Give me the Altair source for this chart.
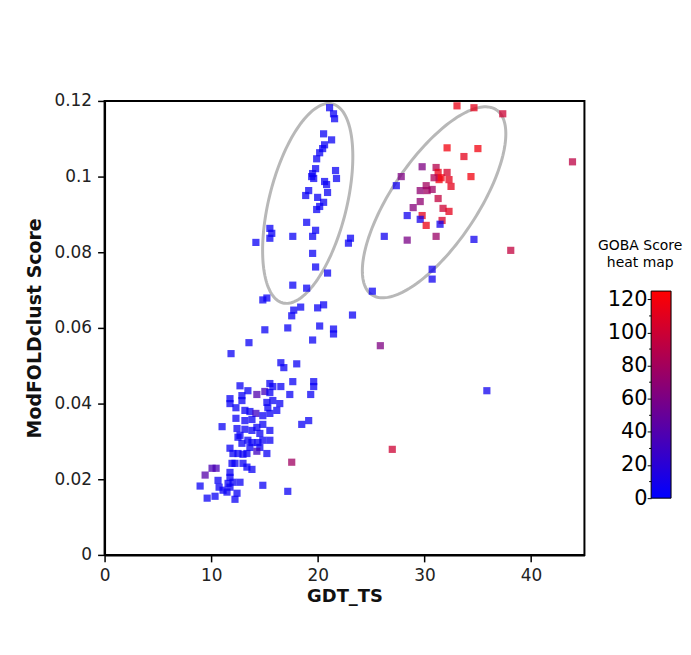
import altair as alt
import numpy as np
import pandas as pd

# ---- data ----
gdt_ts = [
    21.10, 21.47, 21.57, 20.54, 21.29, 20.63, 20.45, 20.17, 19.89, 21.66,
    21.75, 19.79, 19.51, 19.42, 19.61, 20.63, 20.82, 20.91, 19.14, 18.86,
    19.98, 20.54, 20.17, 19.89, 18.95, 19.79, 19.51, 17.65, 15.50, 15.68,
    15.50, 14.19, 23.06, 22.87,
    19.51, 19.79, 20.91, 17.65, 18.95, 14.84, 15.22, 17.74, 18.39, 17.55,
    19.98, 20.54, 23.25, 25.11, 15.03, 17.18, 20.17, 21.47, 21.47, 19.51,
    13.54, 11.86, 25.86, 16.53, 16.81, 18.02,
    12.70, 13.44, 14.28, 15.03, 15.50, 15.78, 16.53, 17.65, 19.61, 19.61,
    19.33, 17.37, 11.76, 11.76, 12.88, 12.88, 15.50, 15.78, 16.43, 16.15,
    15.22, 15.31, 12.32, 13.16, 13.63, 14.19, 14.84, 15.50, 12.32, 13.16,
    13.82, 19.14, 18.49, 11.02, 12.42, 12.70, 13.16, 13.82, 14.28, 14.84,
    14.56, 14.84, 15.50, 15.50, 12.51, 12.88, 13.44, 13.63, 13.82, 14.38,
    14.56, 11.76, 12.04, 12.51, 12.98, 13.35, 14.28, 15.22, 17.55, 11.95,
    12.23, 12.98, 13.35, 13.82, 10.08, 10.46, 11.76, 9.43, 11.76, 12.04,
    11.58, 12.70, 10.64, 8.96, 10.74, 11.11, 11.48, 11.76, 14.84, 12.42,
    12.23, 10.36, 9.62, 17.18,
    33.05, 34.64, 37.34, 32.12, 35.01, 33.70, 29.78, 31.09, 31.28, 31.56,
    31.37, 32.12, 32.30, 32.49, 30.90, 34.36, 27.82, 27.36, 30.16, 29.60,
    30.25, 30.72, 31.28, 29.60, 28.94, 31.74, 32.30, 28.38, 29.78, 29.60,
    31.65, 31.46, 30.16, 26.23, 28.38, 31.09, 34.64, 38.09, 43.88, 30.72,
    30.72, 35.85, 26.98,
]
modfoldclust = [
    0.1182, 0.1166, 0.1153, 0.1113, 0.1097, 0.1084, 0.1074, 0.1063, 0.1047, 0.1016,
    0.0995, 0.1021, 0.1008, 0.1000, 0.0995, 0.0987, 0.0979, 0.0958, 0.0963, 0.0950,
    0.0945, 0.0932, 0.0921, 0.0913, 0.0879, 0.0858, 0.0842, 0.0842, 0.0863, 0.0850,
    0.0837, 0.0826, 0.0837, 0.0824,
    0.0797, 0.0761, 0.0745, 0.0713, 0.0705, 0.0674, 0.0679, 0.0647, 0.0655, 0.0632,
    0.0653, 0.0661, 0.0634, 0.0697, 0.0595, 0.0600, 0.0605, 0.0597, 0.0584, 0.0568,
    0.0561, 0.0532, 0.0553, 0.0508, 0.0495, 0.0505,
    0.0447, 0.0434, 0.0424, 0.0432, 0.0453, 0.0445, 0.0445, 0.0458, 0.0458, 0.0445,
    0.0424, 0.0424, 0.0413, 0.0400, 0.0421, 0.0408, 0.0429, 0.0408, 0.0400, 0.0382,
    0.0403, 0.0389, 0.0389, 0.0382, 0.0379, 0.0374, 0.0368, 0.0374, 0.0361, 0.0355,
    0.0358, 0.0355, 0.0345, 0.0339, 0.0334, 0.0316, 0.0332, 0.0329, 0.0337, 0.0345,
    0.0321, 0.0303, 0.0329, 0.0303, 0.0311, 0.0295, 0.0303, 0.0284, 0.0297, 0.0297,
    0.0284, 0.0282, 0.0268, 0.0268, 0.0266, 0.0268, 0.0274, 0.0268, 0.0245, 0.0242,
    0.0242, 0.0242, 0.0232, 0.0226, 0.0229, 0.0229, 0.0218, 0.0211, 0.0205, 0.0192,
    0.0189, 0.0192, 0.0197, 0.0182, 0.0179, 0.0171, 0.0166, 0.0179, 0.0184, 0.0163,
    0.0147, 0.0155, 0.0150, 0.0168,
    0.1187, 0.1182, 0.1166, 0.1076, 0.1074, 0.1053, 0.1026, 0.1024, 0.1011, 0.0997,
    0.0992, 0.1011, 0.0992, 0.0974, 0.0997, 0.1000, 0.1000, 0.0976, 0.0976, 0.0963,
    0.0963, 0.0966, 0.0942, 0.0934, 0.0918, 0.0916, 0.0908, 0.0897, 0.0897, 0.0887,
    0.0884, 0.0874, 0.0871, 0.0842, 0.0832, 0.0842, 0.0834, 0.0805, 0.1039, 0.0755,
    0.0729, 0.0434, 0.0279,
]
goba = [
    5, 5, 5, 5, 5, 5, 5, 5, 5, 5,
    5, 5, 5, 5, 5, 5, 5, 5, 5, 5,
    5, 5, 5, 5, 5, 5, 5, 5, 5, 5,
    5, 5, 5, 5,
    5, 5, 5, 5, 5, 5, 5, 5, 5, 5,
    5, 5, 5, 5, 5, 5, 5, 5, 5, 5,
    5, 5, 62, 5, 5, 5,
    5, 5, 40, 32, 5, 5, 5, 5, 5, 5,
    5, 5, 5, 5, 5, 5, 5, 5, 5, 5,
    5, 5, 5, 5, 5, 30, 5, 5, 5, 5,
    5, 5, 5, 5, 5, 5, 5, 5, 5, 5,
    5, 5, 5, 5, 5, 5, 5, 5, 5, 5,
    5, 5, 5, 5, 5, 5, 30, 5, 78, 5,
    5, 5, 5, 5, 36, 36, 5, 42, 5, 5,
    5, 5, 5, 5, 5, 5, 5, 5, 5, 5,
    5, 5, 5, 5,
    115, 112, 100, 118, 118, 112, 62, 88, 115, 118,
    118, 105, 112, 112, 85, 118, 62, 8, 80, 70,
    78, 78, 95, 70, 65, 100, 112, 8, 112, 10,
    105, 8, 115, 8, 60, 75, 8, 95, 92, 8,
    8, 8, 100,
]

# ellipse annotations: centre (data units), semi-axes (px), tilt (deg)
ell_cx = [19.05, 30.9]
ell_cy = [0.0929, 0.0932]
ell_a = [103, 112]
ell_b = [39, 43]
ell_theta = [76, 56]

bar_ticks = [0, 20, 40, 60, 80, 100, 120]
bar_minor = [10, 30, 50, 70, 90, 110]
bar_colors = ["#0000ff", "#ff0000"]

W, H = 482, 456
XMAX, YMAX, CMAX = 45, 0.12, 125
FONT = "DejaVu Sans"

pts = pd.DataFrame({"gdt": gdt_ts, "mfc": modfoldclust, "goba": goba})

rows = []
t = np.linspace(0, 2 * np.pi, 181)
for i in range(len(ell_cx)):
    th = np.radians(ell_theta[i])
    dx = ell_a[i] * np.cos(t) * np.cos(th) - ell_b[i] * np.sin(t) * np.sin(th)
    dy = ell_a[i] * np.cos(t) * np.sin(th) + ell_b[i] * np.sin(t) * np.cos(th)
    for k in range(len(t)):
        rows.append({"e": i, "k": k,
                     "gdt": ell_cx[i] + dx[k] * XMAX / W,
                     "mfc": ell_cy[i] + dy[k] * YMAX / H})
ell = pd.DataFrame(rows)

color_scale = alt.Scale(domain=[0, CMAX], range=bar_colors, interpolate="rgb")
xs = alt.Scale(domain=[0, XMAX], nice=False, zero=False)
ys = alt.Scale(domain=[0, YMAX], nice=False, zero=False)

xaxis = alt.Axis(values=[0, 10, 20, 30, 40], title="GDT_TS", grid=False, labelFlush=False,
                 labelFont=FONT, labelFontSize=17, labelColor="#222",
                 titleFont=FONT, titleFontSize=18, titleFontWeight="bold", titleColor="#111",
                 titlePadding=4, tickSize=7, tickWidth=1.5, tickColor="black",
                 domainColor="black", domainWidth=2, labelPadding=6)
yaxis = alt.Axis(values=[0, 0.02, 0.04, 0.06, 0.08, 0.1, 0.12], format="~g",
                 title="ModFOLDclust Score", grid=False, labelFlush=False,
                 labelFont=FONT, labelFontSize=17, labelColor="#222",
                 titleFont=FONT, titleFontSize=19, titleFontWeight="bold", titleColor="#111",
                 titlePadding=10, tickSize=7, tickWidth=1.5, tickColor="black",
                 domainColor="black", domainWidth=2, labelPadding=6)

ellipses = alt.Chart(ell).mark_line(color="#b8b8b8", strokeWidth=3).encode(
    x=alt.X("gdt:Q", scale=xs, axis=xaxis),
    y=alt.Y("mfc:Q", scale=ys, axis=yaxis),
    detail="e:N",
    order="k:Q",
)
scatter = alt.Chart(pts).mark_square(size=52, opacity=0.75, strokeWidth=0).encode(
    x=alt.X("gdt:Q", scale=xs),
    y=alt.Y("mfc:Q", scale=ys),
    color=alt.Color("goba:Q", scale=color_scale, legend=None),
)
main = alt.layer(ellipses, scatter).properties(
    width=W, height=H,
    view=alt.ViewBackground(stroke="black", strokeWidth=2),
)

# colour bar panel
bar_top, bar_bot = 191, 399
per_px = CMAX / (bar_bot - bar_top)
cb_scale = alt.Scale(domain=[-(H - bar_bot) * per_px, CMAX + bar_top * per_px], nice=False, zero=False)
cb_axis = alt.Axis(values=bar_ticks, title=None, grid=False, domain=False,
                   labelFont=FONT, labelFontSize=21, labelColor="black",
                   tickSize=4, tickColor="black", tickWidth=1, labelPadding=0)

gradient = alt.LinearGradient(
    gradient="linear",
    stops=[alt.GradientStop(color=bar_colors[0], offset=0),
           alt.GradientStop(color=bar_colors[1], offset=1)],
    x1=0, x2=0, y1=1, y2=0,
)
bar_df = pd.DataFrame({"lo": [0], "hi": [CMAX]})
gbar = alt.Chart(bar_df).mark_rect(fill=gradient, stroke="black", strokeWidth=1).encode(
    y=alt.Y("lo:Q", scale=cb_scale, axis=cb_axis),
    y2="hi:Q",
    x=alt.value(0), x2=alt.value(20),
)
minor = alt.Chart(pd.DataFrame({"m": bar_minor})).mark_rule(color="black", strokeWidth=1).encode(
    y=alt.Y("m:Q", scale=cb_scale),
    x=alt.value(-2), x2=alt.value(0),
)
titles = alt.Chart(pd.DataFrame({"t": ["GOBA Score", "heat map"], "yy": [146, 163]})).mark_text(
    font=FONT, fontSize=14, color="black", align="center", baseline="middle").encode(
    text="t:N", x=alt.value(-11), y=alt.Y("yy:Q", scale=None),
)
cbar = alt.layer(gbar, minor, titles).properties(
    width=20, height=H,
    view=alt.ViewBackground(stroke=None),
)

chart = alt.hconcat(main, cbar, spacing=12).properties(
    padding={"left": 16, "top": 82, "right": 0, "bottom": 0},
).configure(background="white")

chart.save("out.html", embed_options={"renderer": "svg", "actions": False})
